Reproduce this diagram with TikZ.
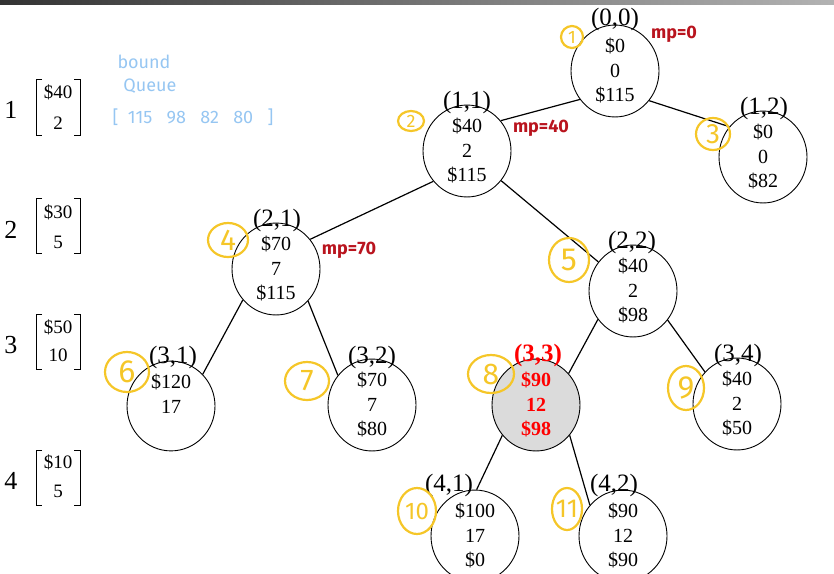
\documentclass[tikz,border=0pt]{standalone}
\usepackage{fontspec}
\setmainfont{Liberation Serif}
\newfontfamily\handfont{Fira Sans}
\usetikzlibrary{shapes.geometric}
\definecolor{ymark}{RGB}{245,198,40}
\definecolor{bhand}{RGB}{150,198,242}
\definecolor{rhand}{RGB}{185,20,30}
\begin{document}
\begin{tikzpicture}[x=1pt,y=-1pt,
  st/.style={ellipse,draw,line width=0.9pt,minimum width=88pt,minimum height=77pt,inner sep=0pt,align=center,font=\fontsize{20}{24.5}\selectfont},
  lab/.style={inner sep=0pt,font=\fontsize{25}{28}\selectfont},
  edgeline/.style={line width=1.2pt},
  rownum/.style={inner sep=0pt,font=\fontsize{26}{28}\selectfont},
  entry/.style={inner sep=0pt,font=\fontsize{19}{22}\selectfont},
  brk/.style={line width=0.8pt},
  bluetext/.style={inner sep=0pt,text=bhand,font=\handfont\fontsize{18}{20}\selectfont},
  redtext/.style={inner sep=0pt,text=rhand,font=\handfont\bfseries\fontsize{18}{20}\selectfont},
  ycirc/.style={ellipse,draw=ymark,line width=2.2pt,inner sep=0pt},
  ynum/.style={inner sep=0pt,text=ymark,font=\handfont\fontsize{#1}{#1}\selectfont},
  ynum/.default=26]
\useasboundingbox (0,0) rectangle (834,573);
\shade[left color=black!80,right color=black!30] (0,0) rectangle (834,4);
% tree nodes
\node[st] (n00) at (615,71) {\$0\\0\\\$115};
\node[st] (n11) at (467,151) {\$40\\2\\\$115};
\node[st] (n12) at (763,157) {\$0\\0\\\$82};
\node[st] (n21) at (276,269) {\$70\\7\\\$115};
\node[st] (n22) at (633,291) {\$40\\2\\\$98};
\node[st] (n31) at (171,406) {\$120\\17\\~};
\node[st] (n32) at (372,405) {\$70\\7\\\$80};
\node[st,fill=black!14,text=red,font=\fontsize{20}{24.5}\selectfont\bfseries] (n33) at (536,405) {\$90\\12\\\$98};
\node[st] (n34) at (737,404) {\$40\\2\\\$50};
\node[st] (n41) at (475,536) {\$100\\17\\\$0};
\node[st] (n42) at (623,536) {\$90\\12\\\$90};
% labels
\node[lab] (l00) at (615,19) {(0,0)};
\node[lab] (l11) at (467,102) {(1,1)};
\node[lab] (l12) at (764,108) {(1,2)};
\node[lab] (l21) at (277,220) {(2,1)};
\node[lab] (l22) at (632,242) {(2,2)};
\node[lab] (l31) at (173,357) {(3,1)};
\node[lab] (l32) at (372,357) {(3,2)};
\node[lab,text=red,font=\fontsize{25}{28}\selectfont\bfseries] (l33) at (538,355) {(3,3)};
\node[lab] (l34) at (738,355) {(3,4)};
\node[lab] (l41) at (449,485) {(4,1)};
\node[lab] (l42) at (614,485) {(4,2)};
% edges
\draw[edgeline] (n00.219) -- (n11.42);
\draw[edgeline] (n00.319) -- (n12.138);
\draw[edgeline] (n11.222) -- (n21.41);
\draw[edgeline] (n11.319) -- (n22.140);
\draw[edgeline] (n21.223) -- (n31.45);
\draw[edgeline] (n21.315) -- (n32.139);
\draw[edgeline] (n22.219) -- (n33.44);
\draw[edgeline] (n22.320) -- (n34.135);
\draw[edgeline] (n33.222) -- (n41.88);
\draw[edgeline] (n33.318) -- (n42.137);
% item vectors
\node[rownum] (r1) at (11,110) {1};
\node[rownum] (r2) at (11,230) {2};
\node[rownum] (r3) at (11,345) {3};
\node[rownum] (r4) at (11,481) {4};
\node[entry] (e1a) at (58,92) {\$40};
\node[entry] (e1b) at (58,123) {2};
\node[entry] (e2a) at (58,212) {\$30};
\node[entry] (e2b) at (58,242) {5};
\node[entry] (e3a) at (58,327) {\$50};
\node[entry] (e3b) at (58,355) {10};
\node[entry] (e4a) at (58,462) {\$10};
\node[entry] (e4b) at (58,491) {5};
\foreach \t/\b in {79/135,198/253,314/369,450/505}{
  \draw[brk] (42,\t) -- (36,\t) -- (36,\b) -- (42,\b);
  \draw[brk] (74,\t) -- (80,\t) -- (80,\b) -- (74,\b);
}
% handwritten notes
\node[bluetext] (bq1) at (144,62) {bound};
\node[bluetext] (bq2) at (150,86) {Queue};
\node[bluetext] (bq3) at (193,117) {[\ \ 115\ \ \ 98\ \ \ 82\ \ \ 80\ \ \ ]};
\node[redtext] (mp0) at (674,34) {mp=0};
\node[redtext] (mp1) at (541,128) {mp=40};
\node[redtext] (mp2) at (349,250) {mp=70};
% yellow circled step numbers
\node[ycirc,minimum width=22pt,minimum height=22pt] (c1) at (572,37) {};
\node[ynum=18] at (c1) {1};
\node[ycirc,minimum width=26pt,minimum height=20pt] (c2) at (411,121) {};
\node[ynum=18] at (c2) {2};
\node[ycirc,minimum width=34pt,minimum height=32pt] (c3) at (713,134) {};
\node[ynum=28] at (c3) {3};
\node[ycirc,minimum width=40pt,minimum height=34pt] (c4) at (228,240) {};
\node[ynum=30] at (c4) {4};
\node[ycirc,minimum width=40pt,minimum height=44pt] (c5) at (569,260) {};
\node[ynum=32] at (c5) {5};
\node[ycirc,minimum width=44pt,minimum height=40pt] (c6) at (127,372) {};
\node[ynum=32] at (c6) {6};
\node[ycirc,minimum width=44pt,minimum height=38pt] (c7) at (307,381) {};
\node[ynum=30] at (c7) {7};
\node[ycirc,minimum width=46pt,minimum height=38pt] (c8) at (491,374) {};
\node[ynum=30] at (c8) {8};
\node[ycirc,minimum width=36pt,minimum height=44pt] (c9) at (686,388) {};
\node[ynum=32] at (c9) {9};
\node[ycirc,minimum width=38pt,minimum height=46pt] (c10) at (417,511) {};
\node[ynum=24] at (c10) {10};
\node[ycirc,minimum width=30pt,minimum height=42pt] (c11) at (567,509) {};
\node[ynum=26] at (c11) {11};
\end{tikzpicture}
\end{document}
